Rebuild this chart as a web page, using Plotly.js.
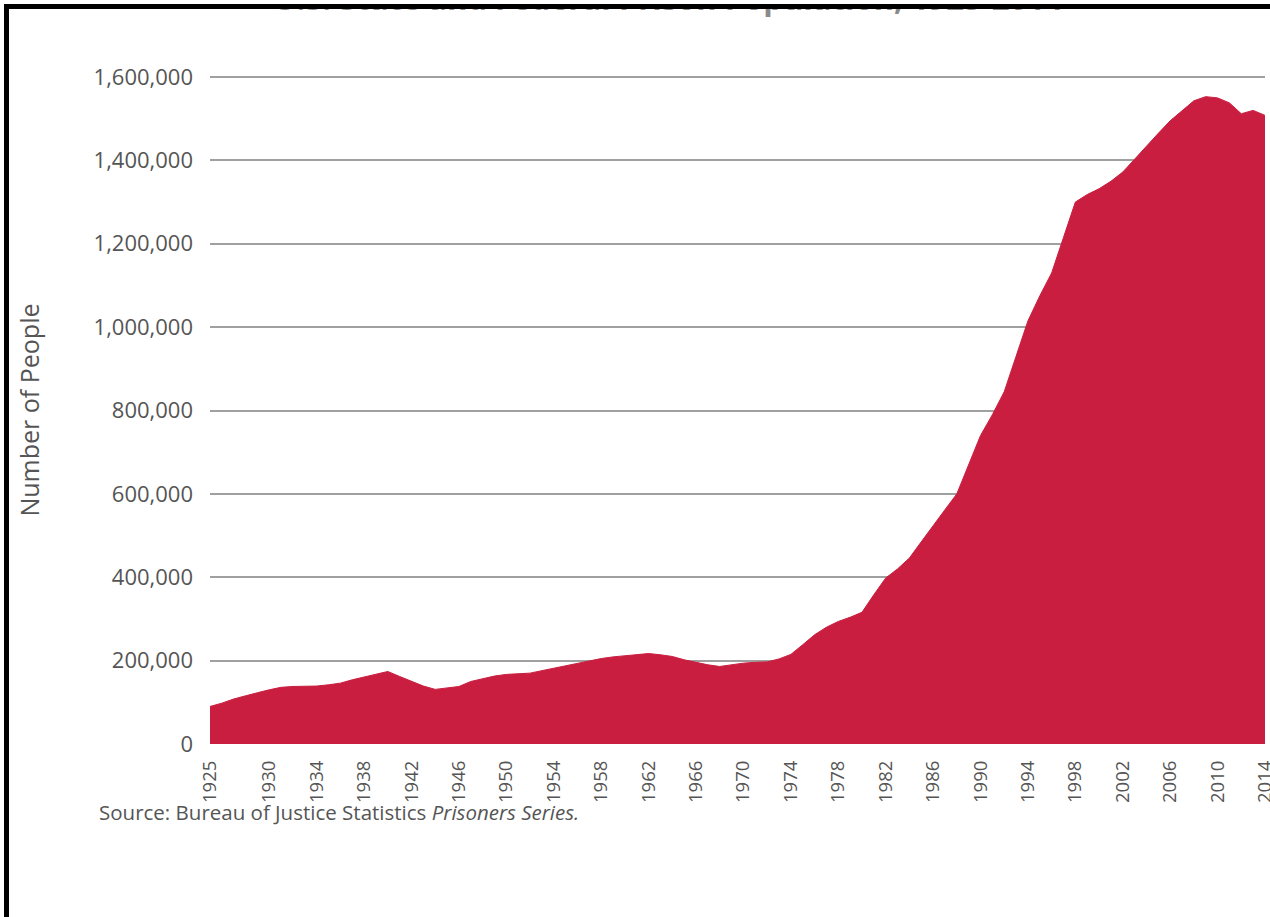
<!DOCTYPE html>
<html>
<head>
<meta charset="utf-8">
<script src="https://cdn.plot.ly/plotly-3.0.1.min.js"></script>
<style>
  html, body { margin: 0; padding: 0; background: #ffffff; }
  #wrap { position: relative; width: 1270px; height: 917px; overflow: hidden; }
  #chart { position: absolute; left: 0; top: 0; width: 1270px; height: 917px; }
  .cover { position: absolute; left: 0; top: 0; width: 1270px; height: 4px; background: #ffffff; pointer-events: none; z-index: 5; }
  .frame-top { position: absolute; left: 4px; top: 4px; width: 1266px; height: 4.5px; background: #000000; pointer-events: none; z-index: 6; }
  .frame-left { position: absolute; left: 3.5px; top: 4px; width: 5px; height: 913px; background: #000000; pointer-events: none; z-index: 6; }
</style>
</head>
<body>
<div id="wrap">
  <div id="chart"></div>
  <div class="cover"></div>
  <div class="frame-top"></div>
  <div class="frame-left"></div>
</div>
<script>
// Year of count
var years = [
  1925,1926,1927,1928,1929,1930,1931,1932,1933,1934,
  1935,1936,1937,1938,1939,1940,1941,1942,1943,1944,
  1945,1946,1947,1948,1949,1950,1951,1952,1953,1954,
  1955,1956,1957,1958,1959,1960,1961,1962,1963,1964,
  1965,1966,1967,1968,1969,1970,1971,1972,1973,1974,
  1975,1976,1977,1978,1979,1980,1981,1982,1983,1984,
  1985,1986,1987,1988,1989,1990,1991,1992,1993,1994,
  1995,1996,1997,1998,1999,2000,2001,2002,2003,2004,
  2005,2006,2007,2008,2009,2010,2011,2012,2013,2014
];

// State and federal prison population
var prisoners = [
  90000, 98000, 108000, 116000, 123000, 130000, 136000, 138000, 138000, 139000,
  142000, 146000, 154000, 161000, 168000, 174000, 162000, 150000, 139000, 131000,
  135000, 138000, 150000, 157000, 163000, 167000, 168000, 170000, 176000, 182000,
  187000, 193000, 200000, 205000, 209000, 212000, 215000, 217000, 214000, 210000,
  202000, 196000, 190000, 186000, 190000, 194000, 196000, 197000, 204000, 215000,
  238000, 262000, 280000, 294000, 304000, 316000, 358000, 398000, 420000, 446000,
  485000, 525000, 562000, 600000, 670000, 740000, 790000, 845000, 930000, 1015000,
  1075000, 1130000, 1215000, 1300000, 1318000, 1332000, 1350000, 1372000, 1403000, 1435000,
  1465000, 1495000, 1520000, 1543000, 1553000, 1550000, 1538000, 1512000, 1520000, 1508000
];

// Axis ticks
var xTickYears = [1925,1930,1934,1938,1942,1946,1950,1954,1958,1962,1966,1970,1974,1978,1982,1986,1990,1994,1998,2002,2006,2010,2014];
var xTickLabels = ["1925","1930","1934","1938","1942","1946","1950","1954","1958","1962","1966","1970","1974","1978","1982","1986","1990","1994","1998","2002","2006","2010","2014"];
var yTickValues = [0,200000,400000,600000,800000,1000000,1200000,1400000,1600000];
var yTickLabels = ["0","200,000","400,000","600,000","800,000","1,000,000","1,200,000","1,400,000","1,600,000"];

var titleText = "U.S. State and Federal Prison Population, 1925-2014";
var yTitleText = "Number of People";
var sourceText = "Source: Bureau of Justice Statistics <i>Prisoners Series.</i>";

// Layout geometry (pixels)
var W = 1270, H = 917;
var mL = 210, mR = 5, mT = 76, mB = 173;
var plotW = W - mL - mR, plotH = H - mT - mB;
function px2x(p) { return (p - mL) / plotW; }
function px2y(p) { return (H - mB - p) / plotH; }

var FONT = "Open Sans, Lato, Liberation Sans, sans-serif";
var GREY = "#555555";
var RED = "#c91e3f";

var trace = {
  x: years,
  y: prisoners,
  type: "scatter",
  mode: "lines",
  fill: "tozeroy",
  fillcolor: RED,
  line: { color: RED, width: 1, shape: "linear" },
  hoverinfo: "skip",
  showlegend: false
};

var layout = {
  width: W,
  height: H,
  margin: { l: mL, r: mR, t: mT, b: mB, pad: 0 },
  paper_bgcolor: "#ffffff",
  plot_bgcolor: "#ffffff",
  font: { family: FONT, color: GREY },
  showlegend: false,
  xaxis: {
    type: "linear",
    range: [1925, 2014],
    tickmode: "array",
    tickvals: xTickYears,
    ticktext: xTickLabels,
    tickangle: -90,
    ticks: "",
    ticklabelstandoff: 12,
    ticklabeloverflow: "allow",
    showgrid: false,
    zeroline: false,
    showline: false,
    tickfont: { family: FONT, size: 18.5, color: GREY },
    fixedrange: true
  },
  yaxis: {
    range: [0, 1602500],
    tickmode: "array",
    tickvals: yTickValues,
    ticktext: yTickLabels,
    ticks: "",
    ticklabelstandoff: 16,
    showgrid: true,
    gridcolor: "#a0a0a0",
    gridwidth: 2,
    zeroline: false,
    showline: false,
    layer: "below traces",
    tickfont: { family: FONT, size: 22, color: GREY },
    title: { text: yTitleText, font: { family: FONT, size: 25, color: GREY }, standoff: 46 },
    fixedrange: true
  },
  annotations: [
    {
      text: titleText,
      xref: "paper", yref: "paper",
      x: px2x(668), y: px2y(21),
      xanchor: "center", yanchor: "bottom",
      showarrow: false,
      font: { family: FONT, size: 31, color: "#8a8a8a", weight: 700 }
    },
    {
      text: sourceText,
      xref: "paper", yref: "paper",
      x: px2x(97), y: px2y(812),
      xanchor: "left", yanchor: "middle",
      showarrow: false,
      font: { family: FONT, size: 20.5, color: GREY }
    }
  ]
};

Plotly.newPlot("chart", [trace], layout, { staticPlot: true, displayModeBar: false });
</script>
</body>
</html>
